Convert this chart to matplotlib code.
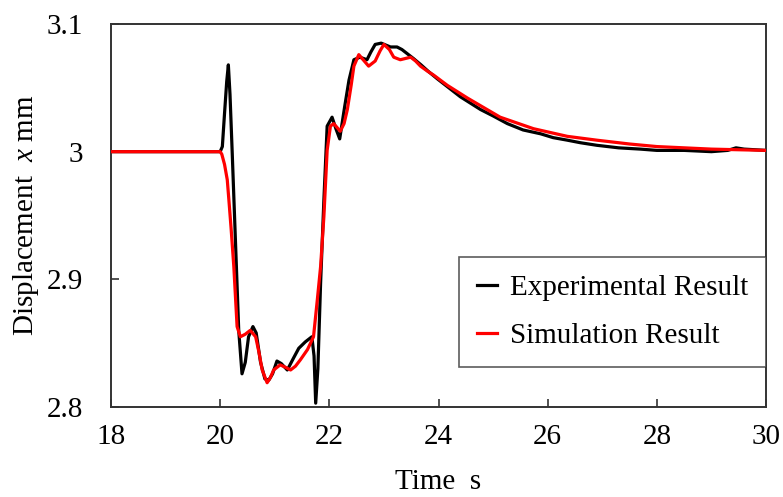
import numpy as np
import matplotlib
matplotlib.use("Agg")
import matplotlib.pyplot as plt

# ── data ────────────────────────────────────────────────────────────────────
exp_t = [18.0, 19.0, 20.0, 20.04, 20.08, 20.12, 20.15, 20.18, 20.22, 20.28, 20.34,
         20.40, 20.46, 20.52, 20.60, 20.66, 20.74, 20.82, 20.89, 20.96, 21.04,
         21.12, 21.23, 21.34, 21.44, 21.56, 21.68, 21.72, 21.75, 21.79, 21.84,
         21.90, 21.96, 22.05, 22.12, 22.19, 22.28, 22.36, 22.45, 22.56, 22.69,
         22.76, 22.84, 22.95, 23.12, 23.24, 23.33, 23.42, 23.54, 23.68, 23.81,
         23.98, 24.16, 24.40, 24.77, 25.00, 25.26, 25.55, 25.87, 26.10, 26.36,
         26.60, 26.90, 27.30, 27.70, 28.00, 28.50, 29.00, 29.30, 29.45, 29.60,
         30.0]
exp_x = [3.000, 3.000, 3.000, 3.004, 3.030, 3.055, 3.068, 3.045, 3.000, 2.930,
         2.860, 2.826, 2.835, 2.855, 2.863, 2.858, 2.835, 2.822, 2.821, 2.826,
         2.836, 2.834, 2.829, 2.838, 2.846, 2.851, 2.855, 2.840, 2.803, 2.830,
         2.897, 2.962, 3.020, 3.027, 3.018, 3.010, 3.035, 3.056, 3.072, 3.074,
         3.072, 3.078, 3.084, 3.085, 3.082, 3.082, 3.080, 3.077, 3.073, 3.068,
         3.063, 3.057, 3.051, 3.043, 3.033, 3.028, 3.022, 3.017, 3.014, 3.011,
         3.009, 3.007, 3.005, 3.003, 3.002, 3.001, 3.001, 3.000, 3.001, 3.003,
         3.002, 3.001]

sim_t = [18.0, 19.0, 20.0, 20.03, 20.08, 20.13, 20.16, 20.20, 20.25, 20.31,
         20.37, 20.46, 20.55, 20.65, 20.71, 20.77, 20.86, 20.92, 20.98, 21.10,
         21.20, 21.29, 21.38, 21.47, 21.60, 21.71, 21.78, 21.84, 21.90, 21.96,
         22.02, 22.08, 22.20, 22.27, 22.33, 22.40, 22.45, 22.54, 22.64, 22.72,
         22.84, 22.93, 23.00, 23.10, 23.18, 23.30, 23.49, 23.58, 23.67, 23.80,
         23.91, 24.16, 24.53, 25.13, 25.74, 26.36, 26.90, 27.50, 28.00, 29.00,
         30.0]
sim_x = [3.000, 3.000, 3.000, 2.998, 2.990, 2.978, 2.962, 2.940, 2.910, 2.863,
         2.855, 2.857, 2.860, 2.855, 2.843, 2.829, 2.819, 2.823, 2.829, 2.833,
         2.831, 2.829, 2.832, 2.837, 2.845, 2.855, 2.884, 2.910, 2.949, 3.001,
         3.020, 3.022, 3.016, 3.022, 3.033, 3.052, 3.067, 3.076, 3.071, 3.067,
         3.071, 3.079, 3.084, 3.080, 3.074, 3.072, 3.074, 3.071, 3.067, 3.063,
         3.060, 3.052, 3.042, 3.027, 3.018, 3.012, 3.009, 3.006, 3.004, 3.002,
         3.001]

x_ticks = [18, 20, 22, 24, 26, 28, 30]
y_ticks = [2.8, 2.9, 3.0, 3.1]
y_tick_labels = ["2.8", "2.9", "3", "3.1"]

# ── plot ─────────────────────────────────────────────────────────────────────
plt.rcParams['font.family'] = ['Liberation Serif', 'DejaVu Serif']
plt.rcParams['mathtext.fontset'] = 'custom'
plt.rcParams['mathtext.it'] = 'Liberation Serif:italic'
plt.rcParams['mathtext.rm'] = 'Liberation Serif'

fs = 21

fig = plt.figure(figsize=(7.83, 4.97), dpi=100)
ax = fig.add_axes([111 / 783, 90 / 497, 655 / 783, 383 / 497])

ax.plot(exp_t, exp_x, color='black', lw=2.3, label='Experimental Result', zorder=2)
ax.plot(sim_t, sim_x, color='#ff0000', lw=2.3, label='Simulation Result', zorder=3)

ax.set_xlim(18, 30)
ax.set_ylim(2.8, 3.1)
ax.set_xticks(x_ticks)
ax.set_yticks(y_ticks)
ax.set_yticklabels(y_tick_labels)
ax.tick_params(axis='both', direction='in', length=6, width=1.2,
               labelsize=fs, color='#333333')
ax.tick_params(axis='x', pad=12)
ax.tick_params(axis='y', pad=20)
for sp in ax.spines.values():
    sp.set_linewidth(1.4)
    sp.set_color('#333333')

ax.set_xlabel('Time  s', fontsize=fs, labelpad=14)
ax.set_ylabel(r'Displacement  $x$ mm', fontsize=fs, labelpad=4)

leg = ax.legend(loc='lower right', bbox_to_anchor=(1.0, 0.105), fontsize=fs,
                frameon=True, fancybox=False, handlelength=0.7,
                handletextpad=0.45, borderpad=0.6, labelspacing=0.75,
                borderaxespad=0)
leg.get_frame().set_edgecolor('#333333')
leg.get_frame().set_linewidth(1.2)

fig.savefig('out.png', dpi=100)
